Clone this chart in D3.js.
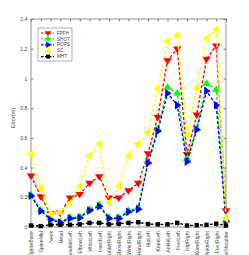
<!DOCTYPE html>
<html>
<head>
<meta charset="utf-8">
<script src="https://cdn.jsdelivr.net/npm/d3@7"></script>
<style>
body { margin:0; background:#fff; }
text { font-family: "Liberation Sans", Arial, sans-serif; }
</style>
</head>
<body>
<script>
// joints on the x axis
var joints = ["SpineBase","SpineMid","Neck","Head","ShoulderLeft","ElbowLeft","WristLeft","HandLeft",
  "ShoulderRight","ElbowRight","WristRight","HandRight","HipLeft","KneeLeft","AnkleLeft","FootLeft",
  "HipRight","KneeRight","AnkleRight","FootRight","SpineShoulder"];

var fpfh = [0.345,0.205,0.09,0.095,0.197,0.22,0.295,0.34,0.197,0.197,0.245,0.295,0.495,0.74,1.12,1.2,0.49,0.755,1.13,1.22,0.11];
var shot = [0.215,0.115,0.06,0.035,0.065,0.07,0.12,0.15,0.065,0.065,0.11,0.13,0.44,0.66,0.94,0.9,0.46,0.665,0.965,0.925,0.045];
var rops = [0.21,0.108,0.05,0.03,0.058,0.062,0.11,0.14,0.058,0.058,0.102,0.12,0.43,0.645,0.9,0.82,0.44,0.655,0.915,0.82,0.04];
var sc   = [0.49,0.26,0.088,0.1,0.162,0.275,0.48,0.56,0.165,0.275,0.48,0.56,0.635,0.93,1.25,1.29,0.62,0.935,1.27,1.33,0.055];
var mht  = [0.01,0.006,0.015,0.015,0.015,0.018,0.028,0.028,0.018,0.022,0.028,0.032,0.02,0.018,0.018,0.028,0.01,0.012,0.015,0.022,0.01];

var yTicks = [0,0.2,0.4,0.6,0.8,1,1.2,1.4];

var series = [
  {name:"FPFH", values:fpfh, color:"#ff0000", shape:"down"},
  {name:"SHOT", values:shot, color:"#00ff00", shape:"up"},
  {name:"ROPS", values:rops, color:"#0000ff", shape:"right"},
  {name:"SC",   values:sc,   color:"#ffff00", shape:"left"},
  {name:"MHT",  values:mht,  color:"#000000", shape:"square"}
];

var margin = {top:19, right:23, bottom:28, left:31},
    width = 249 - margin.left - margin.right,
    height = 255 - margin.top - margin.bottom;

var svg = d3.select("body").append("svg")
    .attr("width", 249)
    .attr("height", 255)
  .append("g")
    .attr("transform", "translate(" + margin.left + "," + margin.top + ")");

var x = d3.scalePoint().domain(joints).range([0, width]);
var y = d3.scaleLinear().domain([0, 1.4]).range([height, 0]);

var axisCol = "#777";

// box
svg.append("rect")
    .attr("width", width).attr("height", height)
    .attr("fill", "none").attr("stroke", axisCol).attr("stroke-width", 0.8);

// y axis, ticks inward
var yAxis = svg.append("g")
    .call(d3.axisLeft(y).tickValues(yTicks).tickSize(-2.5).tickPadding(3.5).tickFormat(d3.format("~g")));
yAxis.select(".domain").remove();
yAxis.selectAll("line").attr("stroke", axisCol);
yAxis.selectAll("text").attr("font-size", 5.2).attr("fill", "#444");

// right side ticks
var yRight = svg.append("g")
    .attr("transform", "translate(" + width + ",0)")
    .call(d3.axisRight(y).tickValues(yTicks).tickSize(-2.5).tickFormat(""));
yRight.select(".domain").remove();
yRight.selectAll("line").attr("stroke", axisCol);

// x axis
var xAxis = svg.append("g")
    .attr("transform", "translate(0," + height + ")")
    .call(d3.axisBottom(x).tickSize(-2.5).tickPadding(3));
xAxis.select(".domain").remove();
xAxis.selectAll("line").attr("stroke", axisCol);
xAxis.selectAll("text")
    .attr("font-size", 5.2).attr("fill", "#444")
    .attr("text-anchor", "end")
    .attr("transform", "rotate(-90)")
    .attr("x", -4).attr("y", 0).attr("dy", "0.35em");

var xTop = svg.append("g")
    .call(d3.axisTop(x).tickSize(-2.5).tickFormat(""));
xTop.select(".domain").remove();
xTop.selectAll("line").attr("stroke", axisCol);

// y label
svg.append("text")
    .attr("transform", "translate(" + (-16) + "," + (height/2 - 5) + ") rotate(-90)")
    .attr("text-anchor", "middle")
    .attr("font-size", 5.5).attr("fill", "#444")
    .text("Error(m)");

function markerPath(shape, s) {
  if (shape === "square") return "M" + (-s*0.55) + "," + (-s*0.55) + "h" + (s*1.1) + "v" + (s*1.1) + "h" + (-s*1.1) + "Z";
  var a = s, b = s * 0.9;
  if (shape === "down") return "M" + (-a) + "," + (-b*0.6) + "L" + a + "," + (-b*0.6) + "L0," + (b*1.1) + "Z";
  if (shape === "up") return "M" + (-a) + "," + (b*0.6) + "L" + a + "," + (b*0.6) + "L0," + (-b*1.1) + "Z";
  if (shape === "right") return "M" + (-b*0.6) + "," + (-a) + "L" + (-b*0.6) + "," + a + "L" + (b*1.1) + ",0Z";
  return "M" + (b*0.6) + "," + (-a) + "L" + (b*0.6) + "," + a + "L" + (-b*1.1) + ",0Z";
}

var line = d3.line()
    .x(function(d, i){ return x(joints[i]); })
    .y(function(d){ return y(d); });

series.forEach(function(s) {
  var g = svg.append("g");
  g.append("path")
      .datum(s.values)
      .attr("d", line)
      .attr("fill", "none")
      .attr("stroke", s.color)
      .attr("stroke-width", 1.4)
      .attr("stroke-dasharray", "3,2");
  g.selectAll("path.mk")
      .data(s.values)
      .enter().append("path")
      .attr("class", "mk")
      .attr("transform", function(d, i){ return "translate(" + x(joints[i]) + "," + y(d) + ")"; })
      .attr("d", markerPath(s.shape, s.shape === "square" ? 4 : 4.3))
      .attr("fill", s.color);
});

// legend
var leg = svg.append("g").attr("transform", "translate(7,9)");
leg.append("rect")
    .attr("width", 34).attr("height", 33)
    .attr("fill", "#fff").attr("stroke", axisCol).attr("stroke-width", 0.6);
series.forEach(function(s, i) {
  var ly = 5 + i * 5.9;
  leg.append("line")
      .attr("x1", 3).attr("x2", 16).attr("y1", ly).attr("y2", ly)
      .attr("stroke", s.color).attr("stroke-width", 1.2).attr("stroke-dasharray", "2.5,1.5");
  leg.append("path")
      .attr("transform", "translate(10," + ly + ")")
      .attr("d", markerPath(s.shape, s.shape === "square" ? 3.6 : 3.3))
      .attr("fill", s.color);
  leg.append("text")
      .attr("x", 19).attr("y", ly).attr("dy", "0.35em")
      .attr("font-size", 4.6).attr("fill", "#444")
      .text(s.name);
});
</script>
</body>
</html>
